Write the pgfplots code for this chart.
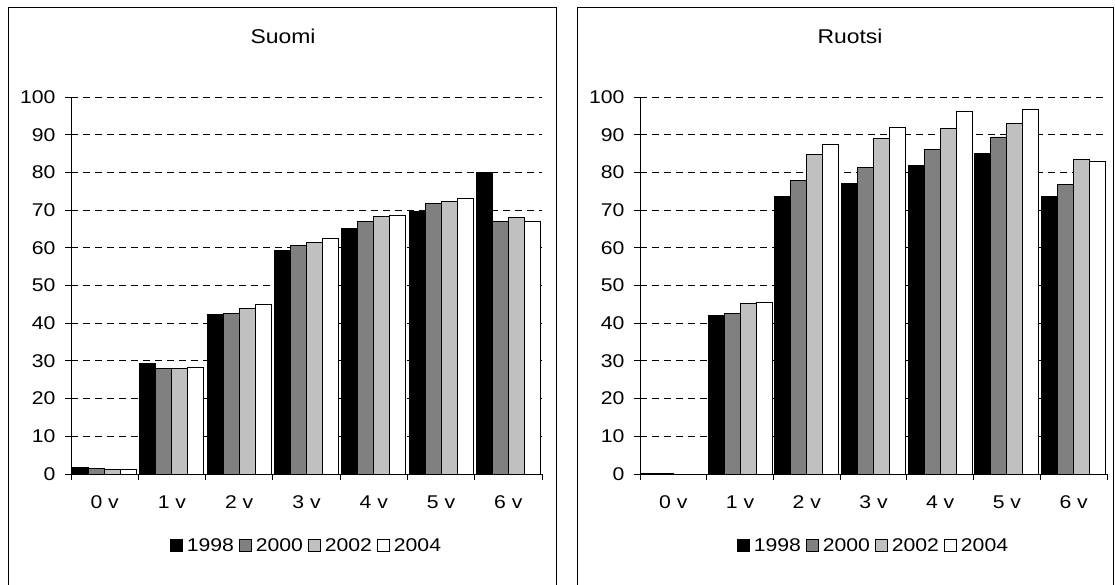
\documentclass[border=0pt]{standalone}
\usepackage{pgfplots}
\pgfplotsset{compat=1.18}
\usepackage{pgfplotstable}
\usepackage{fontspec}
\setmainfont{Liberation Sans}[FakeStretch=1.15]
\definecolor{g2000}{RGB}{128,128,128}
\definecolor{g2002}{RGB}{192,192,192}

\pgfplotstableread{
x a b c d
0 1.7 1.5 1.2 1.1
1 29.2 27.9 27.9 28.3
2 42.3 42.7 44.0 45.1
3 59.3 60.5 61.5 62.5
4 65.1 67.1 68.2 68.5
5 69.7 71.7 72.3 73.1
6 79.9 66.9 68.0 66.9
}\suomi
\pgfplotstableread{
x a b c d
0 0.2 0.1 0 0
1 42.0 42.5 45.3 45.4
2 73.6 77.9 84.7 87.5
3 77.1 81.2 88.9 91.9
4 81.8 86.2 91.6 96.2
5 85.1 89.4 92.9 96.8
6 73.6 76.9 83.4 82.9
}\ruotsi

\newcommand{\chfont}{\fontsize{18.5}{21}\selectfont}
\newcommand{\ttfont}{\fontsize{20}{23}\selectfont}

\pgfplotsset{
  panel/.style={
    scale only axis,
    width=471bp, height=377bp,
    anchor=south west,
    ybar=0pt, bar width=16bp,
    xmin=-0.5, xmax=6.5, ymin=0, ymax=100,
    axis x line=bottom, axis y line=left,
    axis line style={-, line width=0.8bp, black},
    xtick={0,...,6},
    xticklabels={0 v,1 v,2 v,3 v,4 v,5 v,6 v},
    minor xtick={-0.5,0.5,...,6.5},
    major x tick style={draw=none},
    minor x tick style={line width=0.8bp, black},
    minor tick length=6bp,
    ytick={0,10,...,100},
    major tick length=6bp,
    tick align=outside,
    y tick style={line width=0.8bp, black},
    ymajorgrids,
    major grid style={dash pattern=on 7bp off 5bp, line width=0.8bp, black},
    xticklabel style={yshift=-12bp},
    yticklabel style={xshift=-6bp},
    tick label style={font=\chfont},
    /pgf/number format/assume math mode=true,
    every axis plot/.append style={draw=black, line width=0.9bp},
    legend style={at={(0.5,-0.19)}, anchor=center, draw=none, fill=none,
      font=\chfont, legend columns=-1,
      /tikz/every even column/.append style={column sep=3bp},
      /tikz/every odd column/.append style={column sep=2bp},
      inner sep=0pt},
    legend image code/.code={\draw[##1, line width=0.9bp] (0bp,-6bp) rectangle (12bp,6bp);},
  }
}

\begin{document}
\begin{tikzpicture}
\path[use as bounding box] (0,0) rectangle (1115bp,585bp);
\draw[line width=1bp] (8bp,-5bp) -- (8bp,577bp) -- (556bp,577bp) -- (556bp,-5bp);
\draw[line width=1bp] (577bp,-5bp) -- (577bp,577bp) -- (1113bp,577bp) -- (1113bp,-5bp);
\node[font=\ttfont] at (283bp,549bp) {Suomi};
\node[font=\ttfont] at (850bp,549bp) {Ruotsi};

\begin{axis}[panel, at={(71bp,111bp)}]
\addplot[fill=black] table[x=x,y=a] {\suomi};
\addplot[fill=g2000] table[x=x,y=b] {\suomi};
\addplot[fill=g2002] table[x=x,y=c] {\suomi};
\addplot[fill=white] table[x=x,y=d] {\suomi};
\legend{1998,2000,2002,2004}
\end{axis}

\begin{axis}[panel, at={(640bp,111bp)}, width=467bp]
\addplot[fill=black] table[x=x,y=a] {\ruotsi};
\addplot[fill=g2000] table[x=x,y=b] {\ruotsi};
\addplot[fill=g2002] table[x=x,y=c] {\ruotsi};
\addplot[fill=white] table[x=x,y=d] {\ruotsi};
\legend{1998,2000,2002,2004}
\end{axis}
\end{tikzpicture}
\end{document}
